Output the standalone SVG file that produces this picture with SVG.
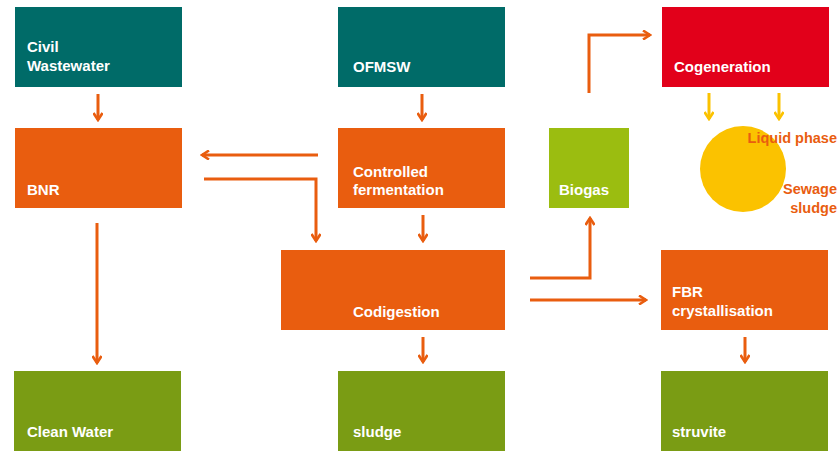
<svg xmlns="http://www.w3.org/2000/svg" width="838" height="452" viewBox="0 0 838 452">
<defs>
<style>
.t{font-family:"Liberation Sans",Arial,sans-serif;font-weight:bold;font-size:15px;fill:#ffffff}
.o{font-family:"Liberation Sans",Arial,sans-serif;font-weight:bold;font-size:14.5px;fill:#e95d0f;text-anchor:end}
.teal{fill:#006b68}.org{fill:#e95d0f}.red{fill:#e2001a}.grn{fill:#7a9c14}.lgrn{fill:#9bbd10}
.c{fill:none;stroke:#e95d0f;stroke-width:3}
.y{fill:none;stroke:#fbc200;stroke-width:3}
</style>
<marker id="ah" viewBox="0 0 10 10" refX="8" refY="5" markerWidth="10" markerHeight="10" markerUnits="userSpaceOnUse" orient="auto">
<path d="M1,0.5 L8,5 L1,9.5" fill="none" stroke="#e95d0f" stroke-width="2.6"/>
</marker>
<marker id="ay" viewBox="0 0 10 10" refX="8" refY="5" markerWidth="10" markerHeight="10" markerUnits="userSpaceOnUse" orient="auto">
<path d="M1,0.5 L8,5 L1,9.5" fill="none" stroke="#fbc200" stroke-width="2.6"/>
</marker>
</defs>
<rect width="838" height="452" fill="#ffffff"/>
<g id="civil"><rect class="teal" x="15" y="7" width="167" height="80"/><text class="t" x="27" y="52">Civil</text><text class="t" x="27" y="71">Wastewater</text></g>
<g id="ofmsw"><rect class="teal" x="338" y="7" width="167" height="80"/><text class="t" x="353" y="72">OFMSW</text></g>
<g id="cogeneration"><rect class="red" x="662" y="7" width="167" height="80"/><text class="t" x="674" y="72">Cogeneration</text></g>
<g id="bnr"><rect class="org" x="15" y="128" width="167" height="80"/><text class="t" x="27" y="195">BNR</text></g>
<g id="fermentation"><rect class="org" x="338" y="128" width="167" height="80"/><text class="t" x="353" y="177">Controlled</text><text class="t" x="353" y="195">fermentation</text></g>
<g id="biogas"><rect class="lgrn" x="549" y="128" width="80" height="80"/><text class="t" x="559" y="195">Biogas</text></g>
<g id="sewage"><circle cx="743" cy="169" r="43" fill="#fbc200"/><text class="o" x="837" y="143">Liquid phase</text><text class="o" x="837" y="194">Sewage</text><text class="o" x="837" y="213">sludge</text></g>
<g id="codigestion"><rect class="org" x="281" y="250" width="224" height="80"/><text class="t" x="353" y="317">Codigestion</text></g>
<g id="fbr"><rect class="org" x="661" y="250" width="167" height="80"/><text class="t" x="672" y="297">FBR</text><text class="t" x="672" y="316">crystallisation</text></g>
<g id="cleanwater"><rect class="grn" x="14" y="371" width="167" height="80"/><text class="t" x="27" y="437">Clean Water</text></g>
<g id="sludge"><rect class="grn" x="338" y="371" width="167" height="80"/><text class="t" x="353" y="437">sludge</text></g>
<g id="struvite"><rect class="grn" x="661" y="371" width="167" height="80"/><text class="t" x="672" y="437">struvite</text></g>
<g id="connectors">
<path class="c" d="M98,94 V120" marker-end="url(#ah)"/>
<path class="c" d="M422,94 V120" marker-end="url(#ah)"/>
<path class="c" d="M318,155 H202" marker-end="url(#ah)"/>
<path class="c" d="M204,179 H316 V241" marker-end="url(#ah)"/>
<path class="c" d="M423,215 V241" marker-end="url(#ah)"/>
<path class="c" d="M97,223 V363" marker-end="url(#ah)"/>
<path class="c" d="M423,337 V362" marker-end="url(#ah)"/>
<path class="c" d="M530,278 H590 V218" marker-end="url(#ah)"/>
<path class="c" d="M530,300 H646" marker-end="url(#ah)"/>
<path class="c" d="M589,93 V35 H650" marker-end="url(#ah)"/>
<path class="c" d="M745,337 V362" marker-end="url(#ah)"/>
<path class="y" d="M709,93 V119" marker-end="url(#ay)"/>
<path class="y" d="M779,93 V119" marker-end="url(#ay)"/>
</g>
</svg>
